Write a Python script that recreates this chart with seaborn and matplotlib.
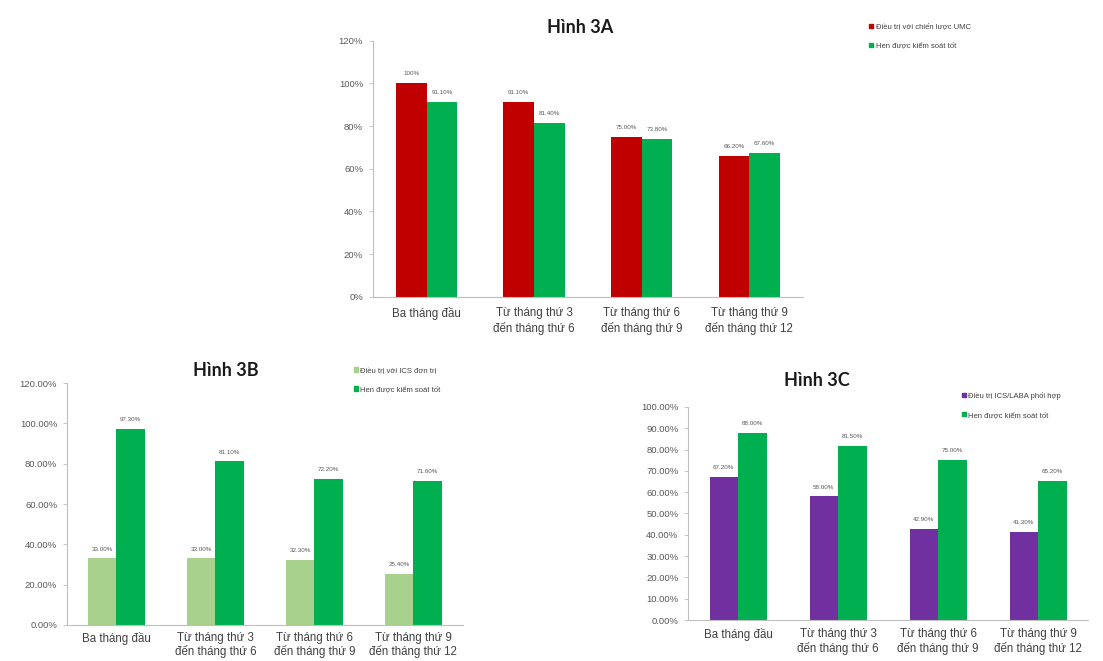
import matplotlib
matplotlib.use("Agg")
import matplotlib.pyplot as plt
import seaborn as sns
import pandas as pd
from matplotlib.ticker import FuncFormatter, MultipleLocator

# Time periods (x-axis categories)
periods = ["Ba tháng đầu",
           "Từ tháng thứ 3\nđến tháng thứ 6",
           "Từ tháng thứ 6\nđến tháng thứ 9",
           "Từ tháng thứ 9\nđến tháng thứ 12"]

# Hình 3A
series_3a = ["Điều trị với chiến lược UMC", "Hen được kiểm soát tốt"]
umc_treat = [100.0, 91.10, 75.00, 66.20]
umc_ctrl = [91.10, 81.40, 73.80, 67.60]

# Hình 3B
series_3b = ["Điều trị với ICS đơn trị", "Hen được kiểm soát tốt"]
ics_treat = [33.00, 33.00, 32.30, 25.40]
ics_ctrl = [97.30, 81.10, 72.20, 71.60]

# Hình 3C
series_3c = ["Điều trị ICS/LABA phối hợp", "Hen được kiểm soát tốt"]
laba_treat = [67.20, 58.00, 42.90, 41.30]
laba_ctrl = [88.00, 81.50, 75.00, 65.20]

RED, GREEN, LIGHT, PURPLE = "#C00000", "#00B050", "#A9D18E", "#7030A0"

sns.set_theme(style="white")
plt.rcParams["font.family"] = ["Liberation Sans", "DejaVu Sans"]

fig = plt.figure(figsize=(11.03, 6.61), dpi=100)


def long_frame(names, a, b):
    return pd.DataFrame({
        "period": periods * 2,
        "series": [names[0]] * 4 + [names[1]] * 4,
        "value": list(a) + list(b),
    })


def panel(rect, names, a, b, colors, title, ymax, step, decimals,
          value_fmt, title_xy, legend_xy, xpad=7, spacing=1.3):
    ax = fig.add_axes(rect)
    df = long_frame(names, a, b)
    sns.barplot(data=df, x="period", y="value", hue="series",
                palette=colors, width=0.57, gap=0, saturation=1,
                edgecolor="none", ax=ax, legend=False)
    ax.set_ylim(0, ymax)
    ax.set_xlim(-0.5, 3.5)
    ax.yaxis.set_major_locator(MultipleLocator(step))
    ax.yaxis.set_major_formatter(
        FuncFormatter(lambda v, p: f"{v:.{decimals}f}%"))
    ax.set_xlabel("")
    ax.set_ylabel("")
    for s in ("top", "right"):
        ax.spines[s].set_visible(False)
    for s in ("left", "bottom"):
        ax.spines[s].set_color("#BFBFBF")
        ax.spines[s].set_linewidth(0.8)
    ax.tick_params(axis="y", labelsize=6.8, colors="#595959", length=3,
                   width=0.6, left=True, color="#BFBFBF", pad=4)
    ax.tick_params(axis="x", labelsize=8.3, colors="#404040", length=0,
                   pad=xpad)
    for lbl in ax.get_xticklabels():
        lbl.set_linespacing(spacing)
    for container, vals in zip(ax.containers, (a, b)):
        ax.bar_label(container, labels=[value_fmt(v) for v in vals],
                     fontsize=4.5, color="#595959", padding=5)
    fig.text(title_xy[0], title_xy[1], title, fontsize=13, fontweight="bold",
             family=["Lato", "DejaVu Sans"], color="#1a1a1a",
             ha="center", va="center")
    handles = [plt.Rectangle((0, 0), 1, 1, color=c) for c in colors]
    fig.legend(handles, names, loc="upper left",
               bbox_to_anchor=legend_xy, frameon=False, fontsize=5.5,
               handlelength=0.5, handleheight=0.5, handletextpad=0.3,
               labelspacing=1.6, labelcolor="#404040")
    return ax


panel([0.338, 0.5507, 0.390, 0.388], series_3a, umc_treat, umc_ctrl,
      [RED, GREEN], "Hình 3A", 120, 20, 0,
      lambda v: "100%" if v == 100 else f"{v:.2f}%",
      (0.526, 0.958), (0.782, 0.975))

panel([0.0607, 0.0545, 0.359, 0.366], series_3b, ics_treat, ics_ctrl,
      [LIGHT, GREEN], "Hình 3B", 120, 20, 2,
      lambda v: f"{v:.2f}%", (0.205, 0.44), (0.315, 0.455),
      xpad=5, spacing=1.1)

panel([0.6238, 0.062, 0.3626, 0.3223], series_3c, laba_treat, laba_ctrl,
      [PURPLE, GREEN], "Hình 3C", 100, 10, 2,
      lambda v: f"{v:.2f}%", (0.741, 0.425), (0.866, 0.418),
      xpad=6, spacing=1.2)

fig.savefig("out.png", dpi=100)
